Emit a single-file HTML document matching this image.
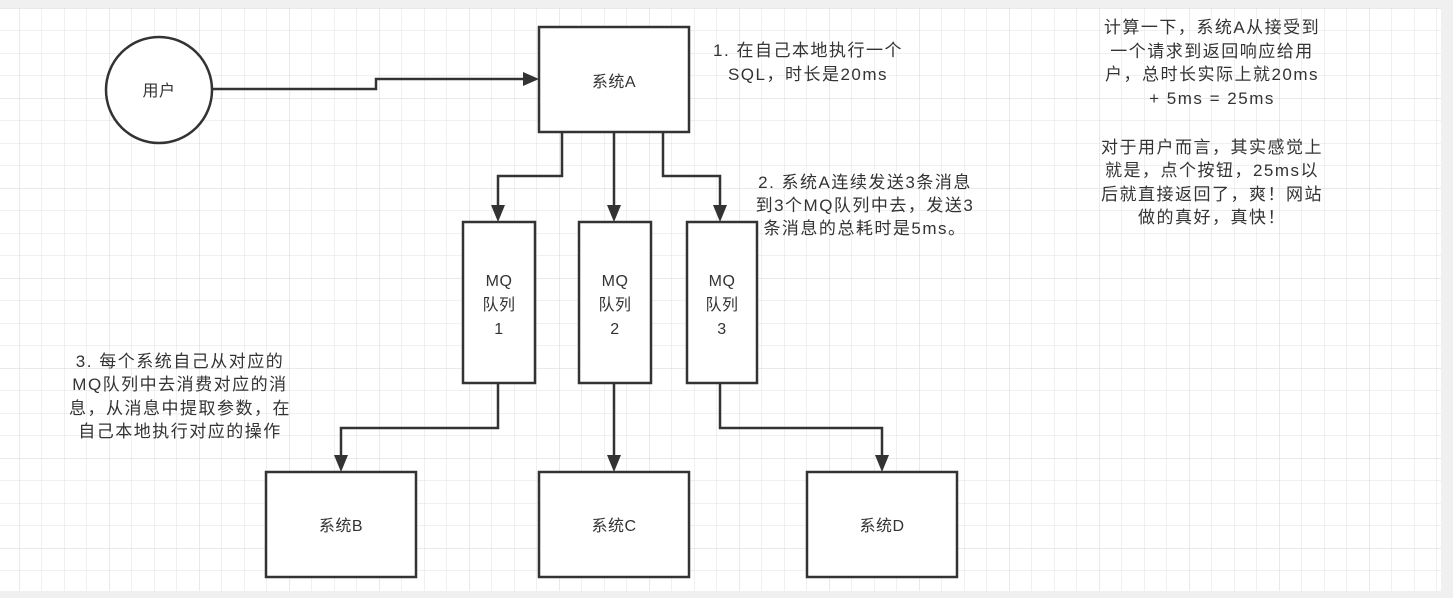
<!DOCTYPE html>
<html><head><meta charset="utf-8"><style>
html,body{margin:0;padding:0;background:#fff;}
svg{display:block;}
text{font-family:"Liberation Sans","Noto Sans CJK SC",sans-serif;fill:#333;font-size:17px;letter-spacing:1.5px;}
.n{font-size:16px;letter-spacing:0.5px;}
</style></head><body>
<svg width="1453" height="598" viewBox="0 0 1453 598" xmlns="http://www.w3.org/2000/svg">
<defs>
<pattern id="g" x="19" y="8" width="22.5" height="22.5" patternUnits="userSpaceOnUse">
<path d="M0 0V22.5M0 0H22.5" stroke="#e2e2e2" stroke-width="1" fill="none"/>
</pattern>
<pattern id="G" x="19" y="8" width="90" height="90" patternUnits="userSpaceOnUse">
<path d="M0 0V90M0 0H90" stroke="#d6d6d6" stroke-width="1" fill="none"/>
</pattern>
</defs>
<rect width="1453" height="598" fill="#fff"/>
<rect width="1453" height="598" fill="url(#g)"/>
<rect width="1453" height="598" fill="url(#G)"/>
<rect x="0" y="0" width="1453" height="8" fill="#f0f0f0"/>
<rect x="1441" y="0" width="12" height="598" fill="#f0f0f0"/>
<rect x="0" y="591" width="1453" height="7" fill="#f0f0f0"/>

<g stroke="#333" stroke-width="2.5" fill="#fff">
<circle cx="159" cy="90" r="53"/>
<rect x="539" y="27" width="150" height="105"/>
<rect x="463" y="222" width="72" height="161"/>
<rect x="579" y="222" width="72" height="161"/>
<rect x="687" y="222" width="70" height="161"/>
<rect x="266" y="472" width="150" height="105"/>
<rect x="539" y="472" width="150" height="105"/>
<rect x="807" y="472" width="150" height="105"/>
</g>
<g stroke="#333" stroke-width="2.5" fill="none">
<path d="M212 89H376V79H525"/>
<path d="M562 132V176H498V206"/>
<path d="M614 132V206"/>
<path d="M663 132V176H720V206"/>
<path d="M498 383V428H341V456"/>
<path d="M614 383V456"/>
<path d="M720 383V428H882V456"/>
</g>
<g fill="#333">
<path d="M539 79L523 72L523 86Z"/>
<path d="M498 222L491 205L505 205Z"/>
<path d="M614 222L607 205L621 205Z"/>
<path d="M720 222L713 205L727 205Z"/>
<path d="M341 472L334 455L348 455Z"/>
<path d="M614 472L607 455L621 455Z"/>
<path d="M882 472L875 455L889 455Z"/>
</g>

<g text-anchor="middle">
<text class="n" x="159" y="96">用户</text>
<text class="n" x="614" y="87">系统A</text>
<text class="n" x="499" y="286">MQ</text><text class="n" x="499" y="310">队列</text><text class="n" x="499" y="334">1</text>
<text class="n" x="615" y="286">MQ</text><text class="n" x="615" y="310">队列</text><text class="n" x="615" y="334">2</text>
<text class="n" x="722" y="286">MQ</text><text class="n" x="722" y="310">队列</text><text class="n" x="722" y="334">3</text>
<text class="n" x="341" y="531">系统B</text>
<text class="n" x="614" y="531">系统C</text>
<text class="n" x="882" y="531">系统D</text>

<text x="808" y="56">1. 在自己本地执行一个</text>
<text x="808" y="80">SQL，时长是20ms</text>

<text x="865" y="188">2. 系统A连续发送3条消息</text>
<text x="865" y="211">到3个MQ队列中去，发送3</text>
<text x="865" y="234">条消息的总耗时是5ms。</text>

<text x="180" y="367">3. 每个系统自己从对应的</text>
<text x="180" y="390">MQ队列中去消费对应的消</text>
<text x="180" y="414">息，从消息中提取参数，在</text>
<text x="180" y="437">自己本地执行对应的操作</text>

<text x="1212" y="33">计算一下，系统A从接受到</text>
<text x="1212" y="57">一个请求到返回响应给用</text>
<text x="1212" y="80">户，总时长实际上就20ms</text>
<text x="1212" y="104">+ 5ms = 25ms</text>
<text x="1212" y="153">对于用户而言，其实感觉上</text>
<text x="1212" y="176">就是，点个按钮，25ms以</text>
<text x="1212" y="200">后就直接返回了，爽！网站</text>
<text x="1212" y="223">做的真好，真快！</text>
</g>
</svg>
</body></html>
